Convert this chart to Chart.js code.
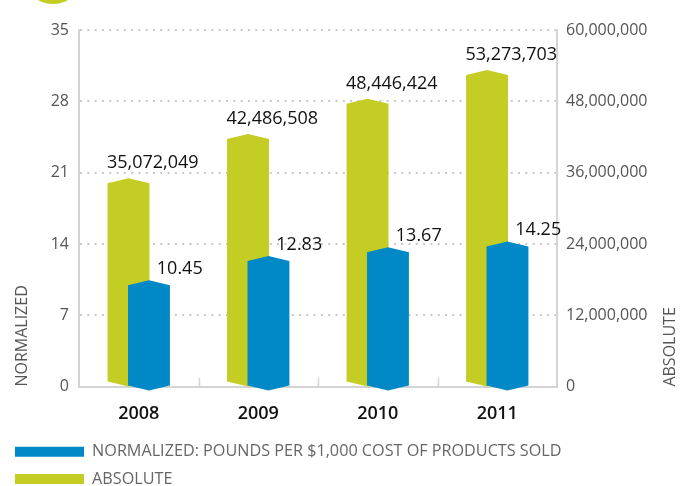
<!DOCTYPE html>
<html>
<head>
<meta charset="utf-8">
<script src="https://cdn.jsdelivr.net/npm/chart.js@4"></script>
<style>
  html, body { margin: 0; padding: 0; background: #fff; overflow: hidden; }
  #wrap { position: relative; width: 694px; height: 486px; }
  #badge { position: absolute; left: 22px; top: -58px; width: 62px; height: 62px; border-radius: 50%; background: #c3cd24; }
</style>
</head>
<body>
<div id="wrap">
  <div id="badge"></div>
  <canvas id="chart" width="694" height="486"></canvas>
</div>
<script>
const years = ["2008", "2009", "2010", "2011"];
const normalized = [10.45, 12.83, 13.67, 14.25];
const absolute = [35072049, 42486508, 48446424, 53273703];
const normalizedTicks = [0, 7, 14, 21, 28, 35];
const absoluteTicks = [0, 12000000, 24000000, 36000000, 48000000, 60000000];

const GREEN = "#c3cd24";
const BLUE = "#0089c6";
const FONT = "'Open Sans', 'Noto Sans', sans-serif";

function fmt(n) {
    return n.toLocaleString("en-US");
}

// bars are drawn as flat cylinders: peaked roof on top, chevron at the base
const prismBars = {
    id: "prismBars",
    afterDatasetsDraw(chart) {
        const ctx = chart.ctx;
        const roof = 5;
        chart.data.datasets.forEach((ds, di) => {
            const meta = chart.getDatasetMeta(di);
            if (meta.hidden) return;
            const back = ds.yAxisID === "yAbs";
            meta.data.forEach((bar) => {
                const half = bar.width / 2;
                const l = bar.x - half, r = bar.x + half;
                const top = bar.y;
                const base = back ? bar.base - roof : bar.base;
                ctx.save();
                ctx.fillStyle = ds.borderColor;
                ctx.beginPath();
                ctx.moveTo(l, top + roof);
                ctx.lineTo(bar.x, top);
                ctx.lineTo(r, top + roof);
                ctx.lineTo(r, base);
                ctx.lineTo(bar.x, base + roof);
                ctx.lineTo(l, base);
                ctx.closePath();
                ctx.fill();
                ctx.restore();
            });
        });

        // value labels
        ctx.save();
        ctx.fillStyle = "#111";
        ctx.font = "18px " + FONT;
        ctx.textBaseline = "alphabetic";
        ctx.textAlign = "center";
        const xs = chart.scales.x;
        const absMeta = chart.getDatasetMeta(0);
        const normMeta = chart.getDatasetMeta(1);
        years.forEach((y, i) => {
            const cx = xs.getPixelForValue(i);
            ctx.fillText(fmt(absolute[i]), cx + 14, absMeta.data[i].y - 10);
            ctx.fillText(normalized[i].toFixed(2), cx + 41, normMeta.data[i].y - 6);
        });
        ctx.restore();
    }
};

// dividers between years and the rotated axis titles
const axisExtras = {
    id: "axisExtras",
    afterDraw(chart) {
        const ctx = chart.ctx;
        const area = chart.chartArea;
        const xs = chart.scales.x;
        ctx.save();
        ctx.strokeStyle = "#d4d4d4";
        ctx.lineWidth = 1.5;
        for (let i = 1; i < years.length; i++) {
            const x = Math.round((xs.getPixelForValue(i - 1) + xs.getPixelForValue(i)) / 2) + 0.5;
            ctx.beginPath();
            ctx.moveTo(x, area.bottom);
            ctx.lineTo(x, area.bottom - 9);
            ctx.stroke();
        }
        ctx.fillStyle = "#555";
        ctx.font = "16px " + FONT;
        ctx.textAlign = "left";
        ctx.textBaseline = "middle";
        ctx.translate(22, area.bottom);
        ctx.rotate(-Math.PI / 2);
        ctx.fillText("NORMALIZED", 0, 0);
        ctx.restore();

        ctx.save();
        ctx.fillStyle = "#555";
        ctx.font = "16px " + FONT;
        ctx.textAlign = "left";
        ctx.textBaseline = "middle";
        ctx.translate(670, area.bottom);
        ctx.rotate(-Math.PI / 2);
        ctx.fillText("ABSOLUTE", 0, 0);
        ctx.restore();
    }
};

new Chart(document.getElementById("chart"), {
    type: "bar",
    data: {
        labels: years,
        datasets: [
            {
                label: "ABSOLUTE",
                data: absolute,
                yAxisID: "yAbs",
                backgroundColor: "transparent",
                borderColor: GREEN,
                borderWidth: 0
            },
            {
                label: "NORMALIZED: POUNDS PER $1,000 COST OF PRODUCTS SOLD",
                data: normalized,
                yAxisID: "yNorm",
                backgroundColor: "transparent",
                borderColor: BLUE,
                borderWidth: 0
            }
        ]
    },
    options: {
        responsive: false,
        animation: false,
        categoryPercentage: 0.342,
        barPercentage: 2.05,
        layout: { padding: { top: 30, left: 4, right: 0, bottom: -11 } },
        plugins: {
            tooltip: { enabled: false },
            legend: {
                position: "bottom",
                align: "start",
                reverse: true,
                labels: {
                    boxWidth: 69,
                    boxHeight: 10,
                    padding: 11,
                    color: "#666",
                    font: { family: FONT, size: 16.2 },
                    generateLabels(chart) {
                        return chart.data.datasets.map((ds, i) => ({
                            text: ds.label,
                            fillStyle: ds.borderColor,
                            strokeStyle: ds.borderColor,
                            lineWidth: 0,
                            fontColor: "#666",
                            datasetIndex: i
                        }));
                    }
                }
            }
        },
        scales: {
            x: {
                offset: true,
                grid: { display: false },
                border: { color: "#d4d4d4", width: 2 },
                ticks: { color: "#111", padding: 8, font: { family: FONT, size: 18, weight: "600" } },
                afterFit(scale) { scale.height = 46; }
            },
            yNorm: {
                position: "left",
                min: 0,
                max: 35,
                afterBuildTicks(scale) { scale.ticks = normalizedTicks.map(v => ({ value: v })); },
                ticks: { color: "#555", padding: 10, font: { family: FONT, size: 16 } },
                grid: { color: "#c8c8c8", lineWidth: 2, drawTicks: false },
                border: { color: "#d4d4d4", width: 2, dash: [2, 5.3] },
                afterFit(scale) { scale.width = 75; }
            },
            yAbs: {
                position: "right",
                min: 0,
                max: 60000000,
                afterBuildTicks(scale) { scale.ticks = absoluteTicks.map(v => ({ value: v })); },
                ticks: { color: "#555", padding: 1, font: { family: FONT, size: 16 }, callback: v => fmt(v) },
                grid: { display: false },
                border: { color: "#d4d4d4", width: 2 },
                afterFit(scale) { scale.width = 137; }
            }
        }
    },
    plugins: [prismBars, axisExtras]
});
</script>
</body>
</html>
